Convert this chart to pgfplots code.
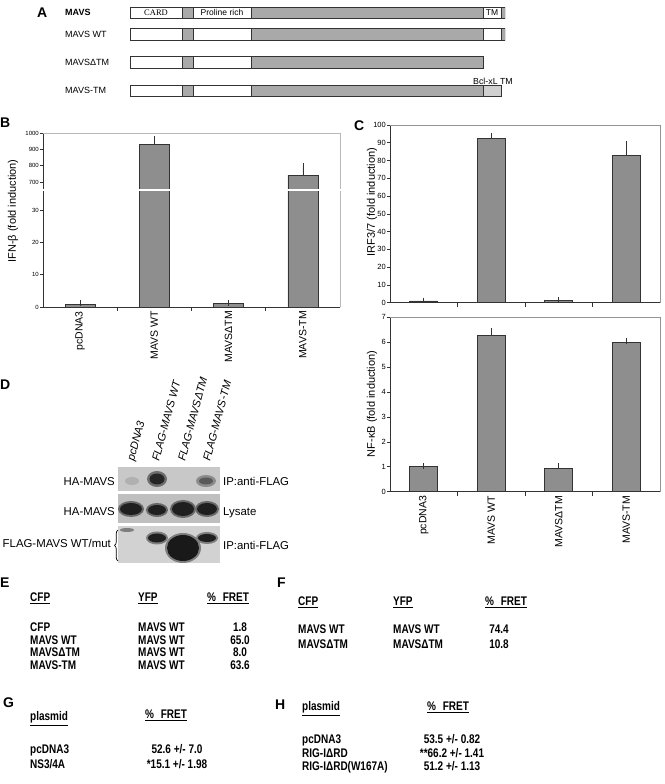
\documentclass[border=0pt]{standalone}
\usepackage{fontspec}
\setmainfont{Liberation Sans}
\newfontfamily\seriffont{Liberation Serif}
\newfontfamily\narrow[FakeStretch=0.8]{Liberation Sans}
\usepackage{pgfplots}
\pgfplotsset{compat=1.18}
\usetikzlibrary{decorations.pathreplacing}
\definecolor{barg}{HTML}{8E8E8E}
\definecolor{schg}{HTML}{A9A9A9}
\definecolor{schl}{HTML}{D0D0D0}
\definecolor{edge}{HTML}{333333}
\definecolor{frameg}{HTML}{B8B8B8}
\definecolor{blotA}{HTML}{C8C8C8}
\definecolor{blotB}{HTML}{BFBFBF}
\definecolor{blotC}{HTML}{D2D2D2}
\newcommand\fs[1]{\fontsize{#1}{#1}\selectfont}
\newcommand\tb{\narrow\bfseries\fs{12.5}}
\newcommand\fret{\%\hspace{4pt} FRET}
\pgfplotsset{
  barax/.style={
    scale only axis, anchor=south west,
    xmin=-0.5, xmax=3.5,
    axis lines*=left,
    axis line style={draw=edge, line width=0.6pt},
    tick align=outside,
    xtick={0,1,2,3}, xticklabels={},
    minor xtick={0.5,1.5,2.5},
    major x tick style={draw=none},
    minor x tick style={draw=edge, line width=0.6pt},
    major y tick style={draw=edge, line width=0.6pt},
    minor tick length=4pt, major tick length=3pt,
    /pgf/number format/assume math mode=true,
    /pgf/number format/1000 sep={},
    yticklabel style={font=\fs{7.5}, inner sep=1pt},
    xticklabel style={rotate=90, anchor=east, font=\fs{10.5}, inner sep=1pt},
    ybar, bar width=28pt, clip mode=individual,
  },
  mybars/.style={fill=barg, draw=edge, line width=0.6pt, bar shift=0pt,
    error bars/.cd, y dir=plus, y explicit,
    error bar style={draw=edge, line width=0.6pt},
    error mark options={draw=edge, line width=0.6pt, mark size=3pt}},
}
\begin{document}
\begin{tikzpicture}
\path[use as bounding box] (0,0) rectangle (664pt,784pt);

% ---------- Panel A schematic ----------
\begin{axis}[scale only axis, anchor=south west, at={(130pt,684pt)},
  width=375pt, height=100pt, xmin=0, xmax=375, ymin=0, ymax=100,
  y dir=reverse, hide axis, xbar stacked, bar width=11.5pt]
\addplot[fill=white, draw=edge, line width=0.7pt] coordinates {(52,12.8) (52,34.2) (52,62.2) (52,90.8)};
\addplot[fill=schg, draw=edge, line width=0.7pt] coordinates {(11,12.8) (11,34.2) (11,62.2) (11,90.8)};
\addplot[fill=white, draw=edge, line width=0.7pt] coordinates {(58,12.8) (58,34.2) (58,62.2) (58,90.8)};
\addplot[fill=schg, draw=edge, line width=0.7pt] coordinates {(232,12.8) (232,34.2) (232,62.2) (232,90.8)};
\addplot[fill=white, draw=edge, line width=0.7pt] coordinates {(18,12.8) (18,34.2) (0,62.2) (0,90.8)};
\addplot[fill=schl, draw=edge, line width=0.7pt] coordinates {(0,12.8) (0,34.2) (0,62.2) (18,90.8)};
\addplot[fill=schg, draw=edge, line width=0.7pt] coordinates {(4,12.8) (4,34.2) (0,62.2) (0,90.8)};
\end{axis}

% ---------- Panel B (broken axis) ----------
\begin{axis}[barax, at={(43pt,477pt)}, width=297pt, height=117pt,
  ymin=0, ymax=36.19, ytick={0,10,20,30}, bar width=30pt,
  yticklabel style={font=\fs{6}},
  xticklabels={pcDNA3, MAVS WT, MAVSΔTM, MAVS-TM}]
\addplot[mybars] coordinates {(0,0.85) +- (0,0.5) (1,931) +- (0,32) (2,1.0) +- (0,0.1) (3,742) +- (0,53)};
\draw[frameg, line width=0.6pt] (rel axis cs:1,0) -- (rel axis cs:1,1);
\end{axis}
\begin{axis}[barax, at={(43pt,594pt)}, width=297pt, height=57pt,
  ymin=651, ymax=1000, ytick={700,800,900,1000}, bar width=30pt,
  yticklabel style={font=\fs{6}},
  axis x line=none, xtick=\empty, minor xtick={}]
\addplot[mybars] coordinates {(0,0.85) +- (0,0.5) (1,931) +- (0,32) (2,1.0) +- (0,0.1) (3,742) +- (0,53)};
\draw[frameg, line width=0.6pt] (rel axis cs:0,1) -- (rel axis cs:1,1) -- (rel axis cs:1,0);
\end{axis}

% ---------- Panel C upper ----------
\begin{axis}[barax, at={(390pt,481.3pt)}, width=270pt, height=177.7pt,
  ymin=0, ymax=100, ytick={0,10,...,100}]
\addplot[mybars] coordinates {(0,1.0) +- (0,0.1) (1,92.5) +- (0,1.3) (2,1.3) +- (0,0.1) (3,83.1) +- (0,6.0)};
\draw[frameg!80!black, line width=0.6pt] (rel axis cs:0,1) -- (rel axis cs:1,1) -- (rel axis cs:1,0);
\end{axis}
% ---------- Panel C lower ----------
\begin{axis}[barax, at={(390pt,292.3pt)}, width=270pt, height=174.4pt,
  ymin=0, ymax=7, ytick={0,1,...,7},
  xticklabels={pcDNA3, MAVS WT, MAVSΔTM, MAVS-TM}]
\addplot[mybars] coordinates {(0,1.0) +- (0,0.02) (1,6.27) +- (0,0.18) (2,0.94) +- (0,0.08) (3,5.98) +- (0,0.07)};
\draw[frameg!80!black, line width=0.6pt] (rel axis cs:0,1) -- (rel axis cs:1,1) -- (rel axis cs:1,0);
\end{axis}

\begin{scope}[x=1pt, y=-1pt, shift={(0pt,784pt)}]
% Panel A labels
\node[anchor=base west, inner sep=0pt, font=\bfseries\fs{14}] at (37,17.5) {A};
\node[anchor=base west, inner sep=0pt, font=\bfseries\fs{9}] at (65,16) {MAVS};
\node[anchor=base west, inner sep=0pt, font=\fs{9}] at (65,37.4) {MAVS WT};
\node[anchor=base west, inner sep=0pt, font=\fs{9}] at (65,65.4) {MAVSΔTM};
\node[anchor=base west, inner sep=0pt, font=\fs{9}] at (65,94) {MAVS-TM};
\node[anchor=base, inner sep=0pt, font=\seriffont\fs{8.5}] at (156,15.8) {CARD};
\node[anchor=base, inner sep=0pt, font=\fs{8.5}] at (222,15.8) {Proline rich};
\node[anchor=base, inner sep=0pt, font=\fs{8.5}] at (492,15.8) {TM};
\node[anchor=base, inner sep=0pt, font=\fs{8.8}] at (493,85) {Bcl-xL TM};

% white break line of panel B
\draw[white, line width=1.8pt] (40,190) -- (341,190);

% panel letters and axis titles
\node[anchor=base west, inner sep=0pt, font=\bfseries\fs{14}] at (0,128) {B};
\node[anchor=base west, inner sep=0pt, font=\bfseries\fs{14}] at (354,131) {C};
\node[rotate=90, inner sep=0pt, font=\fs{11}] at (13,211) {IFN-β (fold induction)};
\node[rotate=90, inner sep=0pt, font=\fs{11}] at (372,202) {IRF3/7 (fold induction)};
\node[rotate=90, inner sep=0pt, font=\fs{11}] at (372,404) {NF-κB (fold induction)};

% ---------- Panel D blot ----------
\node[anchor=base west, inner sep=0pt, font=\bfseries\fs{14}] at (0,390) {D};
\fill[blotA] (118,467) rectangle (220,491);
\fill[blotB] (118,494) rectangle (220,523);
\fill[blotC] (118,526) rectangle (220,563);
% strip 1
\fill[black!12!blotA] (132,481) ellipse (7 and 4);
\fill[black!45!blotA] (157,479) ellipse (10 and 8);
\fill[black!85] (157,479) ellipse (7.5 and 5.5);
\fill[black!30!blotA] (206,481) ellipse (10 and 6);
\fill[black!65] (206,481) ellipse (7 and 3.5);
% strip 2
\fill[black!45!blotB] (131,509) ellipse (13 and 8);
\fill[black!88] (131,509) ellipse (11 and 6);
\fill[black!45!blotB] (157,510) ellipse (11 and 7);
\fill[black!88] (157,510) ellipse (9 and 5);
\fill[black!45!blotB] (183,509) ellipse (13 and 9);
\fill[black!88] (183,509) ellipse (11 and 7);
\fill[black!45!blotB] (207,509) ellipse (12 and 8);
\fill[black!88] (207,509) ellipse (10 and 6);
% strip 3
\fill[black!40!blotC] (127,530) ellipse (7 and 2);
\fill[black!40!blotC] (157,538) ellipse (11 and 6.5);
\fill[black!88] (157,538) ellipse (9 and 4.5);
\fill[black!40!blotC] (183,548) ellipse (18 and 15);
\fill[black!90] (183,548) ellipse (16 and 13);
\fill[black!40!blotC] (207,538) ellipse (11 and 6);
\fill[black!88] (207,538) ellipse (9 and 4);
% lane labels
\node[rotate=75, anchor=base west, inner sep=0pt, font=\itshape\fs{11}] at (134,462) {pcDNA3};
\node[rotate=75, anchor=base west, inner sep=0pt, font=\itshape\fs{11}] at (159,462) {FLAG-MAVS WT};
\node[rotate=75, anchor=base west, inner sep=0pt, font=\itshape\fs{11}] at (185,462) {FLAG-MAVSΔTM};
\node[rotate=75, anchor=base west, inner sep=0pt, font=\itshape\fs{11}] at (210,462) {FLAG-MAVS-TM};
\node[anchor=base east, inner sep=0pt, font=\fs{11.4}] at (115,486) {HA-MAVS};
\node[anchor=base east, inner sep=0pt, font=\fs{11.4}] at (115,516) {HA-MAVS};
\node[anchor=base east, inner sep=0pt, font=\fs{11.4}] at (111,548) {FLAG-MAVS WT/mut};
\draw[line width=0.7pt, decorate, decoration={brace, amplitude=3.5pt}] (118,561) -- (118,530);
\node[anchor=base west, inner sep=0pt, font=\fs{11.4}] at (223,486) {IP:anti-FLAG};
\node[anchor=base west, inner sep=0pt, font=\fs{11.4}] at (223,516) {Lysate};
\node[anchor=base west, inner sep=0pt, font=\fs{11.4}] at (223,550) {IP:anti-FLAG};

% ---------- Panel E ----------
\node[anchor=base west, inner sep=0pt, font=\bfseries\fs{14}] at (0,588) {E};
\node[anchor=base west, inner sep=0pt, font=\tb] at (30,602) {\underline{CFP}};
\node[anchor=base west, inner sep=0pt, font=\tb] at (138,602) {\underline{YFP}};
\node[anchor=base west, inner sep=0pt, font=\tb] at (207,602) {\underline{\fret}};
\node[anchor=base west, inner sep=0pt, font=\tb] at (30,632) {CFP};
\node[anchor=base west, inner sep=0pt, font=\tb] at (30,645) {MAVS WT};
\node[anchor=base west, inner sep=0pt, font=\tb] at (30,657) {MAVSΔTM};
\node[anchor=base west, inner sep=0pt, font=\tb] at (30,670) {MAVS-TM};
\node[anchor=base west, inner sep=0pt, font=\tb] at (138,632) {MAVS WT};
\node[anchor=base west, inner sep=0pt, font=\tb] at (138,645) {MAVS WT};
\node[anchor=base west, inner sep=0pt, font=\tb] at (138,657) {MAVS WT};
\node[anchor=base west, inner sep=0pt, font=\tb] at (138,670) {MAVS WT};
\node[anchor=base, inner sep=0pt, font=\tb] at (240,632) {1.8};
\node[anchor=base, inner sep=0pt, font=\tb] at (240,645) {65.0};
\node[anchor=base, inner sep=0pt, font=\tb] at (240,657) {8.0};
\node[anchor=base, inner sep=0pt, font=\tb] at (240,670) {63.6};

% ---------- Panel F ----------
\node[anchor=base west, inner sep=0pt, font=\bfseries\fs{14}] at (277,588) {F};
\node[anchor=base west, inner sep=0pt, font=\tb] at (298,606) {\underline{CFP}};
\node[anchor=base west, inner sep=0pt, font=\tb] at (393,606) {\underline{YFP}};
\node[anchor=base west, inner sep=0pt, font=\tb] at (485,606) {\underline{\fret}};
\node[anchor=base west, inner sep=0pt, font=\tb] at (298,634) {MAVS WT};
\node[anchor=base west, inner sep=0pt, font=\tb] at (298,649) {MAVSΔTM};
\node[anchor=base west, inner sep=0pt, font=\tb] at (393,634) {MAVS WT};
\node[anchor=base west, inner sep=0pt, font=\tb] at (393,649) {MAVSΔTM};
\node[anchor=base, inner sep=0pt, font=\tb] at (499,634) {74.4};
\node[anchor=base, inner sep=0pt, font=\tb] at (499,649) {10.8};

% ---------- Panel G ----------
\node[anchor=base west, inner sep=0pt, font=\bfseries\fs{14}] at (3,708) {G};
\node[anchor=base west, inner sep=0pt, font=\tb] at (30,721) {\underline{plasmid}};
\node[anchor=base west, inner sep=0pt, font=\tb] at (145,719) {\underline{\fret}};
\node[anchor=base west, inner sep=0pt, font=\tb] at (30,754) {pcDNA3};
\node[anchor=base west, inner sep=0pt, font=\tb] at (30,769) {NS3/4A};
\node[anchor=base, inner sep=0pt, font=\tb] at (177,754) {52.6 +/- 7.0};
\node[anchor=base, inner sep=0pt, font=\tb] at (177,769) {*15.1 +/- 1.98};

% ---------- Panel H ----------
\node[anchor=base west, inner sep=0pt, font=\bfseries\fs{14}] at (275,710) {H};
\node[anchor=base west, inner sep=0pt, font=\tb] at (302,711) {\underline{plasmid}};
\node[anchor=base west, inner sep=0pt, font=\tb] at (427,711) {\underline{\fret}};
\node[anchor=base west, inner sep=0pt, font=\tb] at (302,744) {pcDNA3};
\node[anchor=base west, inner sep=0pt, font=\tb] at (302,757) {RIG-IΔRD};
\node[anchor=base west, inner sep=0pt, font=\tb] at (302,771) {RIG-IΔRD(W167A)};
\node[anchor=base, inner sep=0pt, font=\tb] at (452,744) {53.5 +/- 0.82};
\node[anchor=base, inner sep=0pt, font=\tb] at (452,757) {**66.2 +/- 1.41};
\node[anchor=base, inner sep=0pt, font=\tb] at (452,771) {51.2 +/- 1.13};
\end{scope}
\end{tikzpicture}
\end{document}
